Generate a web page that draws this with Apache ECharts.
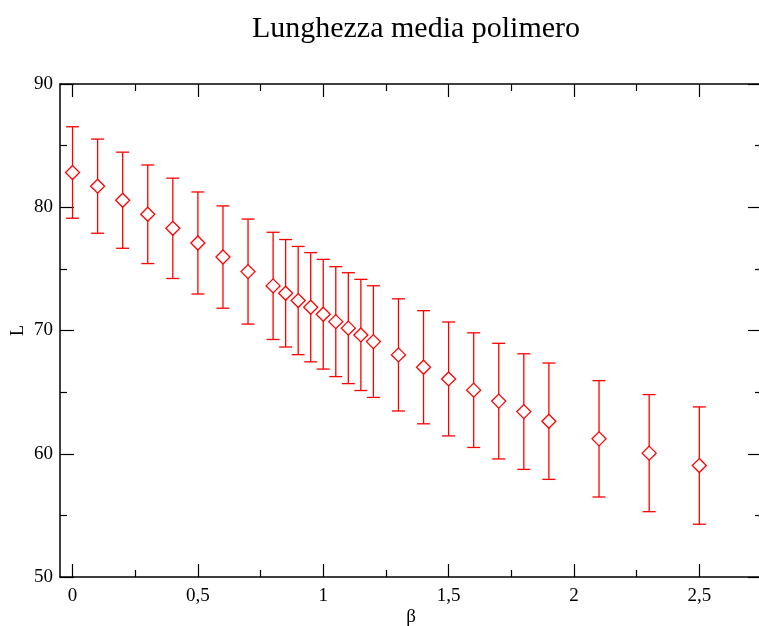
<!DOCTYPE html>
<html>
<head>
<meta charset="utf-8">
<script src="https://cdn.jsdelivr.net/npm/echarts@6/dist/echarts.min.js"></script>
<style>
  html, body { margin: 0; padding: 0; background: #fff; }
  #chart { width: 759px; height: 626px; }
</style>
</head>
<body>
<div id="chart"></div>
<script>
var beta = [0, 0.1, 0.2, 0.3, 0.4, 0.5, 0.6, 0.7, 0.8, 0.85, 0.9, 0.95, 1.0, 1.05, 1.1, 1.15, 1.2, 1.3, 1.4, 1.5, 1.6, 1.7, 1.8, 1.9, 2.1, 2.3, 2.5];
var lunghezza = [82.82, 81.71, 80.57, 79.43, 78.29, 77.10, 75.96, 74.78, 73.62, 73.02, 72.43, 71.89, 71.32, 70.72, 70.19, 69.64, 69.10, 68.02, 67.02, 66.07, 65.16, 64.27, 63.42, 62.64, 61.21, 60.05, 59.04];
var errore = [3.71, 3.82, 3.90, 4.00, 4.07, 4.14, 4.15, 4.26, 4.35, 4.36, 4.39, 4.43, 4.45, 4.46, 4.50, 4.51, 4.53, 4.55, 4.59, 4.62, 4.65, 4.69, 4.69, 4.72, 4.72, 4.75, 4.76];
var xMajor = [0, 0.5, 1, 1.5, 2, 2.5];
var xMinor = [0.25, 0.75, 1.25, 1.75, 2.25];

var echart = echarts.init(document.getElementById('chart'));

var punti = [];
var barre = [];
beta.map((b, i) => {
    punti.push([b, lunghezza[i]]);
    barre.push([b, lunghezza[i] - errore[i], lunghezza[i] + errore[i]]);
});

var font = 'Liberation Serif';
var nero = '#000';

function asseX(pos, major, labels) {
    return {
        type: 'value',
        position: pos,
        min: -0.05,
        max: 2.75,
        axisLine: { show: major, onZero: false, lineStyle: { color: nero, width: 1.5 } },
        splitLine: { show: false },
        axisTick: {
            inside: true,
            length: major ? 13 : 7,
            lineStyle: { color: nero, width: 1.2 },
            customValues: major ? xMajor : xMinor
        },
        axisLabel: {
            show: labels,
            customValues: xMajor,
            color: nero,
            fontFamily: font,
            fontSize: 19,
            margin: 10,
            formatter: v => String(v).replace('.', ',')
        }
    };
}

function asseY(pos, labels) {
    return {
        type: 'value',
        position: pos,
        min: 50,
        max: 90,
        interval: 10,
        name: labels ? 'L' : '',
        nameLocation: 'middle',
        nameGap: 33,
        nameMoveOverlap: false,
        nameTextStyle: { color: nero, fontFamily: font, fontSize: 18 },
        axisLine: { show: true, onZero: false, lineStyle: { color: nero, width: 1.5 } },
        splitLine: { show: false },
        axisTick: { inside: true, length: 14, lineStyle: { color: nero, width: 1.2 } },
        minorTick: { show: true, splitNumber: 2, length: 7, lineStyle: { color: nero, width: 1.2 } },
        axisLabel: {
            show: labels,
            color: nero,
            fontFamily: font,
            fontSize: 19,
            margin: 7
        }
    };
}

var xBottom = asseX('bottom', true, true);
xBottom.name = 'β';
xBottom.nameLocation = 'middle';
xBottom.nameGap = 31;
xBottom.nameMoveOverlap = false;
xBottom.nameTextStyle = { color: nero, fontFamily: font, fontSize: 19 };

var option = {
    animation: false,
    title: {
        text: 'Lunghezza media polimero',
        left: 411,
        textAlign: 'center',
        top: 9,
        textStyle: { color: nero, fontFamily: font, fontSize: 30, fontWeight: 'normal' }
    },
    grid: { left: 60, top: 84, width: 702, bottom: 49, containLabel: false, outerBoundsMode: 'none' },
    xAxis: [
        xBottom,
        asseX('bottom', false, false),
        asseX('top', true, false),
        asseX('top', false, false)
    ],
    yAxis: [
        asseY('left', true),
        asseY('right', false)
    ],
    series: [
        {
            name: 'errore',
            type: 'custom',
            xAxisIndex: 0,
            yAxisIndex: 0,
            data: barre,
            renderItem: function (params, api) {
                var x = api.value(0);
                var alto = api.coord([x, api.value(2)]);
                var basso = api.coord([x, api.value(1)]);
                var half = 6.5;
                var stile = { stroke: '#ff0000', lineWidth: 1.3 };
                return {
                    type: 'group',
                    children: [
                        { type: 'line', shape: { x1: alto[0], y1: alto[1], x2: basso[0], y2: basso[1] }, style: stile },
                        { type: 'line', shape: { x1: alto[0] - half, y1: alto[1], x2: alto[0] + half, y2: alto[1] }, style: stile },
                        { type: 'line', shape: { x1: basso[0] - half, y1: basso[1], x2: basso[0] + half, y2: basso[1] }, style: stile }
                    ]
                };
            },
            z: 2
        },
        {
            name: 'L',
            type: 'scatter',
            xAxisIndex: 0,
            yAxisIndex: 0,
            data: punti,
            symbol: 'diamond',
            symbolSize: 14,
            itemStyle: { color: '#fff', borderColor: '#ff0000', borderWidth: 1.3, opacity: 1 },
            z: 3
        }
    ]
};
echart.setOption(option);
</script>
</body>
</html>
